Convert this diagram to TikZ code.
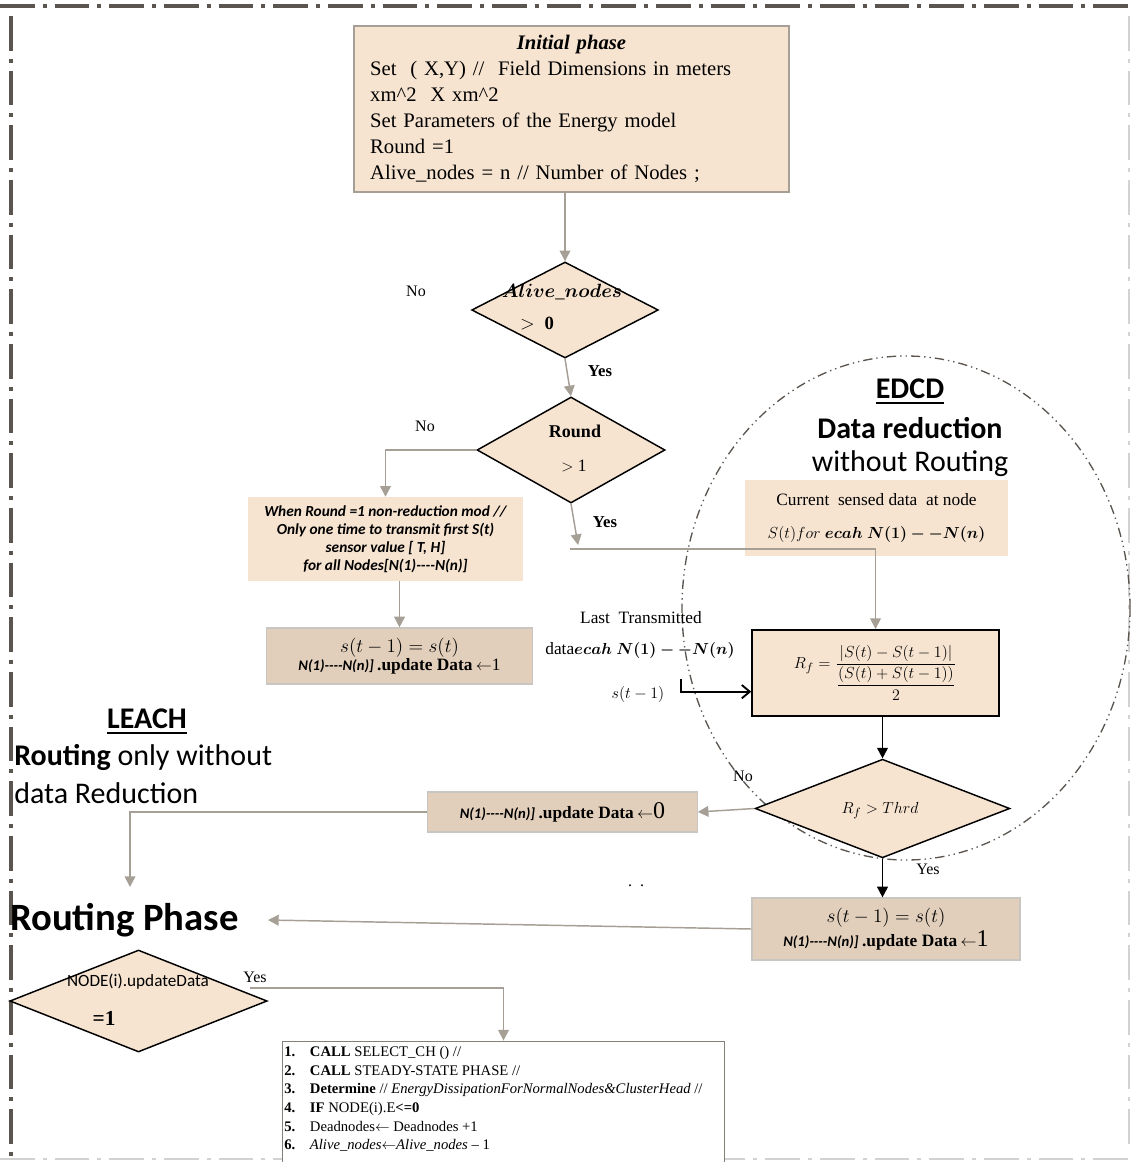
\documentclass[tikz,border=0pt]{standalone}
\usepackage{amsmath}
\usepackage{bm}
\usepackage{fontspec}
\setmainfont{Liberation Serif}
\newfontfamily\calibri{Carlito}
\usetikzlibrary{shapes.geometric,arrows.meta}

\definecolor{boxfill}{HTML}{F6E4D1}
\definecolor{tanfill}{HTML}{E1CFBB}
\definecolor{flowgray}{HTML}{A59F96}
\definecolor{framegray}{HTML}{5B554F}

\begin{document}
\begin{tikzpicture}[x=0.75pt, y=-0.75pt,
        flow/.style={draw=flowgray, line width=1.1pt, -{Triangle[width=8pt,length=8pt]}},
        blackflow/.style={draw=black, line width=1.4pt, -{Triangle[width=8pt,length=8pt]}},
        decision/.style={diamond, draw=black, line width=1.1pt, fill=boxfill, inner sep=0pt},
        plainbox/.style={rectangle, fill=boxfill, inner sep=0pt},
        tanbox/.style={rectangle, fill=tanfill, draw=flowgray!60, line width=0.9pt, inner sep=0pt},
        lbl/.style={font=\fontsize{12}{14}\selectfont},
        framedash/.style={line width=3.5pt, dash pattern=on 26pt off 6pt on 3pt off 6pt}]
        \useasboundingbox (0,0) rectangle (1132,1162);

        % Outer frame
        \draw[framegray, framedash] (0,6) -- (1132,6);
        \draw[framegray, framedash] (11,16) -- (11,1162);
        \draw[gray!35, framedash, line width=2pt] (0,1159) -- (1132,1159);
        \draw[gray!35, framedash, line width=1pt] (1129,16) -- (1129,1150);

        % EDCD region
        \node[ellipse, draw=framegray, line width=1pt, dash pattern=on 7pt off 3pt on 1pt off 3pt on 1pt off 3pt, minimum width=336pt, minimum height=378pt] (edcd) at (906,608) {};
        \node[font=\calibri\bfseries\fontsize{22.5}{26}\selectfont] (edcdT) at (910,392) {\underline{EDCD}};
        \node[font=\calibri\bfseries\fontsize{22.5}{26}\selectfont] (edcdA) at (910,428) {Data reduction};
        \node[font=\calibri\fontsize{22.5}{26}\selectfont] (edcdB) at (910,464) {without Routing};

        % LEACH region
        \node[font=\calibri\bfseries\fontsize{22.5}{26}\selectfont] (leachT) at (147,722) {\underline{LEACH}};
        \node[font=\calibri\fontsize{22.5}{26}\selectfont, anchor=west, inner sep=0pt] (leachA) at (14,757) {\textbf{Routing} only without};
        \node[font=\calibri\fontsize{22.5}{26}\selectfont, anchor=west, inner sep=0pt] (leachB) at (14,793) {data Reduction};

        % Initial phase
        \node[plainbox, draw=flowgray, line width=1.3pt, minimum width=326pt, minimum height=124.5pt, text width=302pt, align=left, font=\fontsize{15.5}{19.5}\selectfont] (init) at (571.5,109)
        {\makebox[\linewidth]{\textbf{\textit{Initial phase}}}\\
         Set~~( X,Y) //~~Field Dimensions in meters\\
         xm\textasciicircum 2~~X xm\textasciicircum 2\\
         Set Parameters of the Energy model\\
         Round =1\\
         Alive\_nodes = n // Number of Nodes ;};

        % Decision: Alive_nodes > 0
        \node[decision, minimum width=140pt, minimum height=72pt] (alive) at (565,310) {};
        \node[font=\fontsize{14}{16}\selectfont] at (562,292) {$\bm{Alive\_nodes}$};
        \node[font=\fontsize{14}{16}\selectfont] at (537,324) {$>\ \mathbf{0}$};
        \node[lbl] at (416,291) {No};

        % Decision: Round > 1
        \node[decision, minimum width=141pt, minimum height=79.5pt] (round) at (571,450) {};
        \node[font=\bfseries\fontsize{13.5}{15}\selectfont] at (575,431) {Round};
        \node[font=\fontsize{13}{15}\selectfont] at (574,466) {$>$ 1};
        \node[lbl, font=\bfseries\fontsize{12.5}{14}\selectfont] at (600,371) {Yes};
        \node[lbl] at (425,426) {No};
        \node[lbl, font=\bfseries\fontsize{12.5}{14}\selectfont] at (605,522) {Yes};

        \draw[flow] (init.south -| alive.north) -- (alive.north);
        \draw[flow] (alive.south) -- (round.north);

        % First round, no reduction
        \node[plainbox, minimum width=206pt, minimum height=63pt, align=center, font=\calibri\bfseries\itshape\fontsize{11.5}{13.5}\selectfont] (first) at (385.5,539)
        {When Round =1 non-reduction mod //\\
         Only one time to transmit first S(\textit{t})\\
         sensor value [ T, H]\\
         for all Nodes[N(1)----N(n)]};
        \node[tanbox, minimum width=200pt, minimum height=42pt, align=center] (keep) at (399.5,656)
        {{\fontsize{15}{17}\selectfont $s(t-1)=s(t)$}\\[0pt]
         {\calibri\bfseries\itshape\fontsize{11}{12}\selectfont N(1)----N(n)]} {\bfseries\fontsize{13}{14}\selectfont .update Data} {\fontsize{13}{14}\selectfont $\leftarrow$1}};
        \draw[flow] (round.west) -| (first.north);
        \draw[flow] (first.south -| keep.north) -- (keep.north);

        % Current sensed data
        \node[plainbox, minimum width=197pt, minimum height=57pt, align=center, font=\fontsize{13}{25}\selectfont] (cur) at (876.5,518)
        {Current~ sensed data~ at node\\
         $S(t)for\ \bm{ecah\ N(1)--N(n)}$};

        % Reduction factor
        \node[plainbox, draw=black, line width=1.4pt, minimum width=185pt, minimum height=64.5pt, font=\fontsize{12.5}{14}\selectfont] (rf) at (875.5,673)
        {$R_f=\dfrac{|S(t)-S(t-1)|}{\dfrac{(S(t)+S(t-1))}{2}}$};
        \coordinate (join) at (570,549);
        \draw[flow] (round.south) -- (578,545);
        \draw[flow] (join) -| (rf.north);

        % Last transmitted data
        \node[lbl, font=\fontsize{13}{15}\selectfont] (lastA) at (641,618) {Last~ Transmitted};
        \node[lbl, font=\fontsize{13}{15}\selectfont] (lastB) at (640,650) {data$\bm{ecah\ N(1)--N(n)}$};
        \node[lbl, font=\fontsize{13}{15}\selectfont] (lastC) at (638,694) {$s(t-1)$};
        \coordinate (lastin) at (681,679);
        \draw[draw=black, line width=1.4pt, -{Straight Barb[width=10pt,length=6pt]}] (lastin) |- ([yshift=-14pt]rf.west);

        % Decision: Rf > Thrd
        \node[decision, minimum width=191pt, minimum height=74pt] (thrd) at (882.5,808.5) {};
        \node[font=\fontsize{13}{15}\selectfont] at (880,811) {$R_f > Thrd$};
        \draw[blackflow] (rf.south -| thrd.north) -- (thrd.north);
        \node[lbl] at (743,776) {No};
        \node[lbl] at (928,869) {Yes};

        % Update data boxes
        \node[tanbox, minimum width=202pt, minimum height=30pt] (upd0) at (562.5,812)
        {{\calibri\bfseries\itshape\fontsize{11}{12}\selectfont N(1)----N(n)]} {\bfseries\fontsize{13}{14}\selectfont .update Data} {\fontsize{13}{14}\selectfont $\leftarrow$}{\fontsize{18}{18}\selectfont 0}};
        \node[tanbox, minimum width=201pt, minimum height=46.5pt, align=center] (upd1) at (886,929)
        {{\fontsize{15}{17}\selectfont $s(t-1)=s(t)$}\\[1pt]
         {\calibri\bfseries\itshape\fontsize{11}{12}\selectfont N(1)----N(n)]} {\bfseries\fontsize{13}{14}\selectfont .update Data} {\fontsize{13}{14}\selectfont $\leftarrow$}{\fontsize{18}{18}\selectfont 1}};
        \draw[flow] (thrd.west) -- (upd0.east);
        \draw[blackflow] (thrd.south) -- (thrd.south |- upd1.north);
        \node[lbl] at (636,886) {.~~.};

        % Routing phase
        \node[font=\calibri\bfseries\fontsize{29}{34}\selectfont, anchor=west, inner sep=0pt] (rphase) at (10,920) {Routing Phase};
        \coordinate (leachin) at (130,887);
        \coordinate (rpin) at (268,920);
        \draw[flow] (upd0.west) -| (leachin);
        \draw[flow] (upd1.west) -- (rpin);

        % Decision: NODE(i).updateData = 1
        \node[decision, minimum width=193pt, minimum height=76.5pt] (upd) at (138.5,1001) {};
        \node[font=\calibri\fontsize{12.9}{14}\selectfont] at (138,982) {NODE(i).updateData};
        \node[font=\bfseries\fontsize{16}{18}\selectfont] at (104,1018) {=1};
        \node[lbl] at (255,977) {Yes};

        % LEACH steps
        \node[rectangle, draw=flowgray!80!black, line width=0.9pt, fill=white, minimum width=332pt, minimum height=92pt, inner sep=0pt] (list) at (503.5,1102.5) {};
        \node[anchor=north west, inner sep=0pt, font=\fontsize{11}{14}\selectfont] (steps) at (284,1043)
        {\begin{tabular}{@{}l@{\hspace{11pt}}l@{}}
         \textbf{1.} & \textbf{CALL} SELECT\_CH () //\\
         \textbf{2.} & \textbf{CALL} STEADY-STATE PHASE //\\
         \textbf{3.} & \textbf{Determine} // \textit{EnergyDissipationForNormalNodes\&ClusterHead} //\\
         \textbf{4.} & \textbf{IF} NODE(i).E\textbf{<=0}\\
         \textbf{5.} & Deadnodes$\leftarrow$ Deadnodes +1\\
         \textbf{6.} & \textit{Alive\_nodes}$\leftarrow$\textit{Alive\_nodes} -- 1
         \end{tabular}};
        \coordinate (yesU) at (250,988);
        \draw[flow] (yesU) -| (list.north);
\end{tikzpicture}
\end{document}
